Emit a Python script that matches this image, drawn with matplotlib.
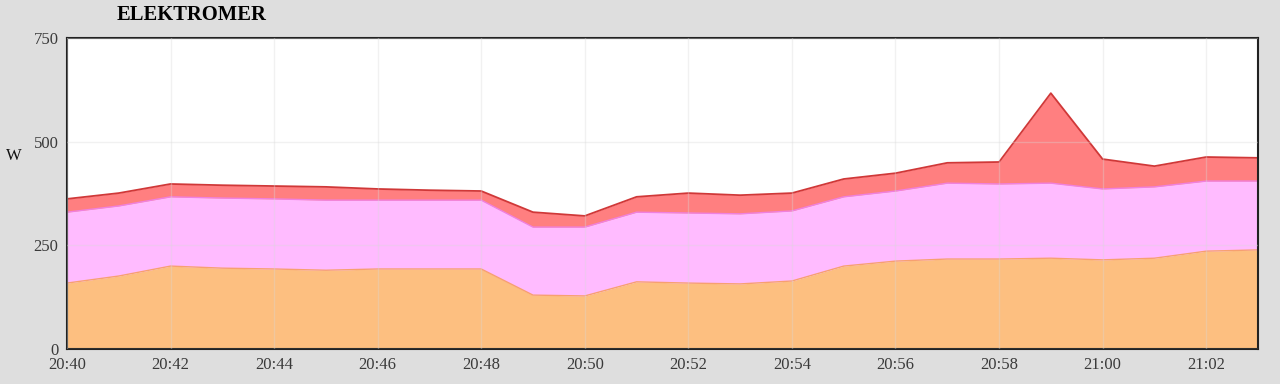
import numpy as np
import pandas as pd
from matplotlib import pyplot as plt
import matplotlib.dates as mdates

# minute samples 20:40 .. 21:03
times = pd.date_range('2024-01-01 20:40', '2024-01-01 21:03', freq='1min')
base = [159, 176, 200, 195, 193, 190, 193, 193, 193, 130, 128, 162,
        159, 157, 164, 200, 212, 217, 217, 219, 215, 219, 236, 239]
mid = [171, 169, 167, 169, 169, 169, 166, 166, 166, 164, 166, 168,
       169, 169, 169, 167, 169, 183, 181, 181, 171, 172, 169, 166]
top = [32, 31, 31, 31, 31, 32, 27, 24, 22, 36, 27, 37,
       48, 45, 43, 43, 43, 49, 53, 217, 72, 50, 58, 56]

plt.rcParams['font.family'] = ['Liberation Serif', 'DejaVu Serif']

fig = plt.figure(figsize=(12.8, 3.84), dpi=100, facecolor='#dedede')
ax = fig.add_axes([0.0523, 0.0911, 0.9305, 0.8099])
ax.set_facecolor('white')

b = np.array(base)
m = b + np.array(mid)
t = m + np.array(top)

ax.fill_between(times, 0, b, color='#fdbf80', lw=0)
ax.plot(times, b, color='#f7a070', lw=1)
ax.fill_between(times, b, m, color='#ffbbff', lw=0)
ax.plot(times, m, color='#f080e0', lw=1)
ax.fill_between(times, m, t, color='#ff7f80', lw=0)
ax.plot(times, t, color='#d03838', lw=1.3)

ax.set_xlim(times[0], times[-1])
ax.set_ylim(0, 750)
ax.set_yticks([0, 250, 500, 750])
ax.xaxis.set_major_locator(mdates.MinuteLocator(byminute=range(0, 60, 2)))
ax.xaxis.set_major_formatter(mdates.DateFormatter('%H:%M'))
ax.grid(True, color='#d8d8d8', alpha=0.35, lw=1, zorder=5)
ax.set_axisbelow(False)
ax.tick_params(length=0, labelsize=12, labelcolor='#3a3a3a', pad=6)
for s in ax.spines.values():
    s.set_color('#222222')
    s.set_linewidth(1.5)

fig.text(0.005, 0.595, 'W', fontsize=12, color='#111111', va='center')
fig.text(0.091, 0.962, 'ELEKTROMER', fontsize=14.8, fontweight='bold', va='center')

fig.savefig('out.png', dpi=100, facecolor=fig.get_facecolor())
